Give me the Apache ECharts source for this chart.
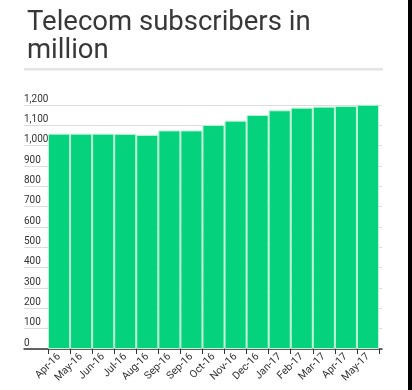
<!DOCTYPE html>
<html>
<head>
<meta charset="utf-8">
<script src="https://cdn.jsdelivr.net/npm/echarts@6/dist/echarts.min.js"></script>
<style>
html,body{margin:0;padding:0;background:#fff;}
#chart{width:412px;height:390px;}
</style>
</head>
<body>
<div id="chart"></div>
<script>
var months = ['Apr-16','May-16','Jun-16','Jul-16','Aug-16','Sep-16','Sep-16','Oct-16','Nov-16','Dec-16','Jan-17','Feb-17','Mar-17','Apr-17','May-17'];
var subscribers = [1059, 1059, 1059, 1058, 1053, 1075, 1075, 1102, 1123, 1151, 1174, 1187, 1192, 1195, 1201];
var yMin = 0, yMax = 1200, yStep = 100;

var chart = echarts.init(document.getElementById('chart'), null, {renderer:'canvas'});
var font = 'Roboto, "Noto Sans", Arial, sans-serif';
chart.setOption({
  backgroundColor: '#fff',
  animation: false,
  title: {
    text: 'Telecom subscribers in\nmillion',
    left: 22, top: 4,
    textStyle: {fontFamily: font, fontSize: 27.5, fontWeight: 'normal', color: '#383838', lineHeight: 28}
  },
  graphic: [
    {type:'rect', shape:{x:24, y:68, width:359, height:2.5}, style:{fill:'#e4e4e4'}},
    {type:'rect', shape:{x:408, y:0, width:4, height:390}, style:{fill:'#000'}}
  ],
  grid: [
    {left: 24, right: 30, top: 105, bottom: 41},
    {left: 48, right: 33, top: 105, bottom: 41}
  ],
  xAxis: [
    {gridIndex:0, type:'value', min:0, max:1, show:true,
     axisLine:{show:true, onZero:false, lineStyle:{color:'#333', width:1.5}},
     axisTick:{show:false}, axisLabel:{show:false}, splitLine:{show:false}},
    {gridIndex:1, type:'category', data: months,
     axisLine:{show:false},
     axisTick:{show:true, length:5, lineStyle:{color:'#333'}},
     axisLabel:{rotate:45, fontSize:10.5, color:'#333', fontFamily: font, margin:6, interval:0}}
  ],
  yAxis: [
    {gridIndex:0, type:'value', min:yMin, max:yMax, interval:yStep,
     axisLine:{show:false}, axisTick:{show:false},
     axisLabel:{inside:true, margin:0, verticalAlign:'bottom', padding:[0,0,1,0], fontSize:10, color:'#333', fontFamily: font,
       formatter: function(v){ return v.toLocaleString('en-US'); }},
     splitLine:{show:true, lineStyle:{color:'#dcdcdc', width:1}}},
    {gridIndex:1, type:'value', min:yMin, max:yMax, interval:yStep, show:false, splitLine:{show:false}}
  ],
  series: [{
    type:'bar', xAxisIndex:1, yAxisIndex:1, data: subscribers,
    barWidth:'100%', barCategoryGap:0,
    itemStyle:{color:'#05d27c', borderColor:'#bff3d6', borderWidth:1}
  }]
});
</script>
</body>
</html>
